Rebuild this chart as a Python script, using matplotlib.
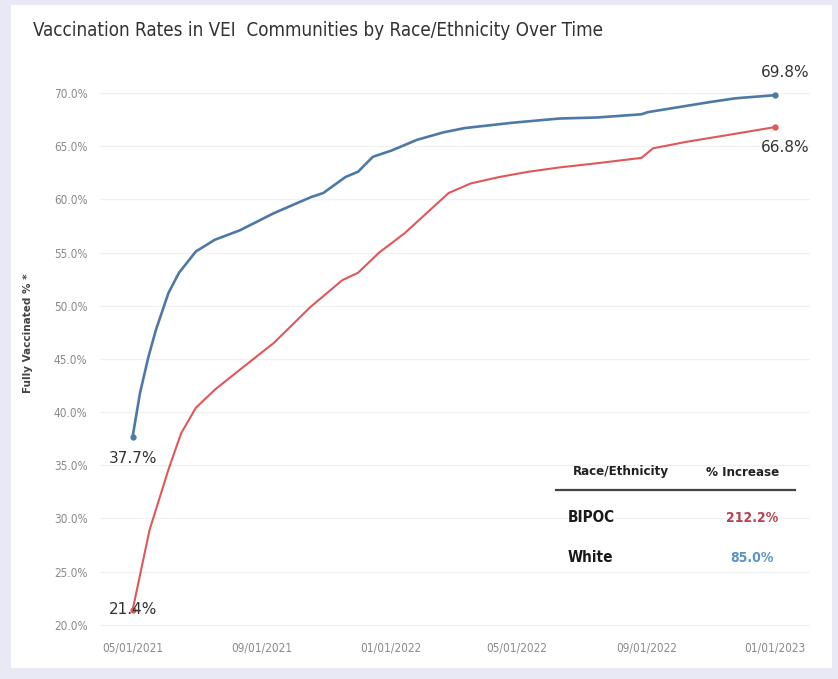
import matplotlib
matplotlib.use("Agg")
import matplotlib.pyplot as plt
import matplotlib.dates as mdates
from matplotlib.patches import Rectangle
import pandas as pd

# data
white_dates = ['2021-05-01', '2021-05-08', '2021-05-16', '2021-05-23', '2021-06-04', '2021-06-14',
               '2021-06-30', '2021-07-18', '2021-08-11', '2021-09-12', '2021-10-17',
               '2021-10-29', '2021-11-19', '2021-12-01', '2021-12-15', '2022-01-02',
               '2022-01-26', '2022-02-20', '2022-03-12', '2022-04-26', '2022-06-10',
               '2022-07-16', '2022-08-27', '2022-09-02', '2022-10-31', '2022-11-24',
               '2023-01-01']
white_vals = [37.7, 41.8, 45.2, 47.7, 51.2, 53.1,
              55.1, 56.2, 57.1, 58.7, 60.2,
              60.6, 62.1, 62.6, 64.0, 64.6,
              65.6, 66.3, 66.7, 67.2, 67.6,
              67.7, 68.0, 68.2, 69.15, 69.5,
              69.8]

bipoc_dates = ['2021-05-01', '2021-05-17', '2021-06-04', '2021-06-16', '2021-06-30',
               '2021-07-18', '2021-08-11', '2021-09-12', '2021-10-17', '2021-11-16',
               '2021-12-01', '2021-12-21', '2022-01-14', '2022-02-04', '2022-02-25',
               '2022-03-18', '2022-04-14', '2022-05-12', '2022-06-10', '2022-07-16',
               '2022-08-27', '2022-09-07', '2022-10-08', '2022-11-17', '2023-01-01']
bipoc_vals = [21.4, 28.9, 34.6, 38.0, 40.4,
              42.1, 44.0, 46.5, 49.9, 52.4,
              53.1, 55.0, 56.8, 58.7, 60.6,
              61.5, 62.1, 62.6, 63.0, 63.4,
              63.9, 64.8, 65.4, 66.05, 66.8]

tick_dates = ['2021-05-01', '2021-09-01', '2022-01-01', '2022-05-01', '2022-09-01', '2023-01-01']
yticks = [20, 25, 30, 35, 40, 45, 50, 55, 60, 65, 70]

table_groups = ['BIPOC', 'White']
table_increase = ['212.2%', '85.0%']

W, H = 838, 679
BLUE = '#4e79a7'
RED = '#e15759'
cond = dict(family='DejaVu Sans', stretch='condensed')

def fx(px):
    return px / W

def fy(py):
    return 1 - py / H

wd = pd.to_datetime(white_dates)
bd = pd.to_datetime(bipoc_dates)

fig = plt.figure(figsize=(W / 100, H / 100), dpi=100)
fig.patch.set_facecolor('#e9e9f5')
# white panel behind everything
panel = Rectangle((fx(11), fy(668)), fx(832) - fx(11), fy(5) - fy(668),
                  transform=fig.transFigure, facecolor='white', edgecolor='none', zorder=-10)
fig.add_artist(panel)

ax = fig.add_axes([fx(100), fy(629), fx(810) - fx(100), fy(76) - fy(629)])
ax.set_zorder(5)
ax.set_facecolor('none')

ax.plot(wd, white_vals, color=BLUE, lw=1.9, solid_capstyle='round', solid_joinstyle='round')
ax.plot(bd, bipoc_vals, color=RED, lw=1.5, solid_capstyle='round', solid_joinstyle='round')
# end point marks
ax.plot([wd[0], wd[-1]], [white_vals[0], white_vals[-1]], 'o', color=BLUE, ms=3.5)
ax.plot([bd[0], bd[-1]], [bipoc_vals[0], bipoc_vals[-1]], 'o', color=RED, ms=3.5)

ax.set_ylim(19.6, 71.6)
ax.set_xlim(pd.Timestamp('2021-03-31'), pd.Timestamp('2023-02-03'))

ax.set_yticks(yticks)
ax.set_yticklabels(['%.1f%%' % v for v in yticks], fontsize=8.5, color='#8a8a8a', **cond)
ax.set_xticks(pd.to_datetime(tick_dates))
ax.xaxis.set_major_formatter(mdates.DateFormatter('%m/%d/%Y'))
for lab in ax.get_xticklabels():
    lab.set_family('DejaVu Sans')
    lab.set_stretch('condensed')
    lab.set_fontsize(8.5)
    lab.set_color('#8a8a8a')
ax.tick_params(length=0, pad=9)
ax.grid(axis='y', color='#f1f1f1', lw=1)
for s in ax.spines.values():
    s.set_visible(False)

ax.set_ylabel('Fully Vaccinated % *', fontsize=7.5, fontweight='bold', color='#444444')
ax.yaxis.set_label_coords((fx(33) - fx(100)) / (fx(810) - fx(100)),
                          (fy(333) - fy(629)) / (fy(76) - fy(629)))

# data labels
lbl = dict(fontsize=11, color='#333333', ha='center', va='center')
ax.annotate('%.1f%%' % white_vals[0], (wd[0], white_vals[0]), xytext=(0, -16),
            textcoords='offset points', **lbl)
ax.annotate('%.1f%%' % bipoc_vals[0], (bd[0], bipoc_vals[0]), xytext=(0, 0),
            textcoords='offset points', **lbl)
ax.annotate('%.1f%%' % white_vals[-1], (wd[-1], white_vals[-1]), xytext=(7, 16),
            textcoords='offset points', **lbl)
ax.annotate('%.1f%%' % bipoc_vals[-1], (bd[-1], bipoc_vals[-1]), xytext=(7, -15),
            textcoords='offset points', **lbl)

# title
fig.text(fx(33), fy(31), 'Vaccination Rates in VEI  Communities by Race/Ethnicity Over Time',
         fontsize=13.5, color='#333333', ha='left', va='center', **cond)

# small table, drawn on top of the axes
tb = dict(transform=fig.transFigure, zorder=20, va='center')
ax.text(fx(621), fy(472), 'Race/Ethnicity', fontsize=9.5, fontweight='bold',
        color='#222222', ha='center', **tb, **cond)
ax.text(fx(743), fy(472), '% Increase', fontsize=9.5, fontweight='bold',
        color='#222222', ha='center', **tb, **cond)
ax.plot([fx(556), fx(795)], [fy(490), fy(490)], color='#444444', lw=1.6,
        transform=fig.transFigure, zorder=20, clip_on=False)
row_y = [518, 558]
val_col = ['#b5424f', '#5b93c9']
for name, val, ry, vc in zip(table_groups, table_increase, row_y, val_col):
    ax.text(fx(568), fy(ry), name, fontsize=11, fontweight='bold',
            color='#1a1a1a', ha='left', **tb, **cond)
    ax.text(fx(752), fy(ry), val, fontsize=10, fontweight='bold',
            color=vc, ha='center', **tb, **cond)

fig.savefig('out.png', dpi=100, facecolor=fig.get_facecolor())
